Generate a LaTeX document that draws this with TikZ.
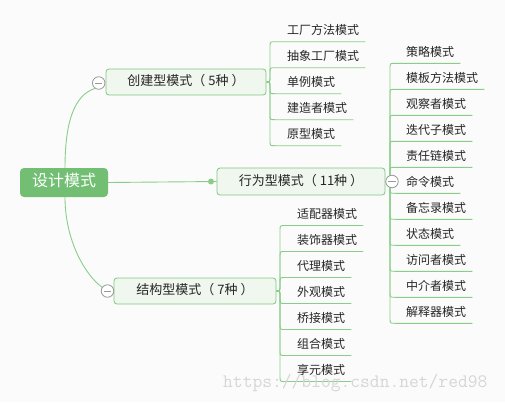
\documentclass[tikz,border=0pt]{standalone}
\usepackage{fontspec}
\newfontfamily\cjk{Noto Sans CJK SC}
\usetikzlibrary{calc}
\definecolor{bgc}{HTML}{FBFBFB}
\definecolor{rootg}{HTML}{72BF74}
\definecolor{boxfill}{HTML}{F0F7EE}
\definecolor{boxline}{HTML}{80C882}
\definecolor{brline}{HTML}{8ACD8A}
\definecolor{circ}{HTML}{9A9A9A}
\definecolor{txt}{HTML}{262626}
\definecolor{wmc}{HTML}{D6D6D6}
\pgfdeclarelayer{bgl}
\pgfsetlayers{bgl,main}
\begin{document}
\begin{tikzpicture}[x=1pt,y=-1pt,
 rootbox/.style={fill=rootg, rounded corners=4pt, minimum width=88pt, minimum height=29pt, inner sep=0pt, text=white, font=\cjk\fontsize{16}{16}\selectfont, text height=0.8em, text depth=0.1em},
 catbox/.style={draw=boxline, line width=0.8pt, fill=boxfill, rounded corners=3pt, minimum height=26pt, inner sep=0pt, text=txt, font=\cjk\fontsize{13}{13}\selectfont, text height=0.8em, text depth=0.1em},
 leaf/.style={anchor=base west, inner sep=0pt, text=txt, font=\cjk\fontsize{12}{12}\selectfont},
 branch/.style={draw=brline, line width=0.9pt},
 toggle/.style={circle, draw=circ, fill=white, line width=0.8pt, minimum size=12.5pt, inner sep=0pt},
 dotmark/.style={circle, fill=brline, minimum size=6pt, inner sep=0pt}
]
\useasboundingbox (0,0) rectangle (505,402);
\begin{pgfonlayer}{bgl}
\fill[bgc] (0,0) rectangle (505,402);
\end{pgfonlayer}

% root and categories
\node[rootbox] (root) at (64,182.5) {设计模式};
\node[catbox, minimum width=160pt] (C) at (186,82) {创建型模式（ 5种 ）};
\node[catbox, minimum width=168pt, minimum height=27pt] (B) at (301,181.5) {行为型模式（ 11种 ）};
\node[catbox, minimum width=162pt] (S) at (195,291) {结构型模式（ 7种 ）};

% leaves: creational
\foreach \t [count=\i] in {工厂方法模式,抽象工厂模式,单例模式,建造者模式,原型模式} {
  \coordinate (c\i-u) at (270,{41.7+26*(\i-1)});
  \node[leaf] (c\i) at (287,{41.7+26*(\i-1)-7}) {\t};
}
% leaves: behavioural
\foreach \t [count=\i] in {策略模式,模板方法模式,观察者模式,迭代子模式,责任链模式,命令模式,备忘录模式,状态模式,访问者模式,中介者模式,解释器模式} {
  \coordinate (b\i-u) at (390,{63.3+26*(\i-1)});
  \node[leaf] (b\i) at (406,{63.3+26*(\i-1)-7}) {\t};
}
% leaves: structural
\foreach \t [count=\i] in {适配器模式,装饰器模式,代理模式,外观模式,桥接模式,组合模式,享元模式} {
  \coordinate (s\i-u) at (280,{225.5+26*(\i-1)});
  \node[leaf] (s\i) at (297,{225.5+26*(\i-1)-7}) {\t};
}

% branches
\begin{pgfonlayer}{bgl}
\foreach \p/\c/\n/\k in {C/c/5/2, B/b/11/5, S/s/7/3} {
  \foreach \i in {1,...,\n} {
    \pgfmathsetmacro\shA{\i<=\k ? 6 : -6}
    \pgfmathsetmacro\shB{\i<=\k ? -5 : 5}
    \draw[branch] (\p.east) .. controls (\p.east -| \c\i-u) .. ([yshift=\shA pt]\p.east -| \c\i-u)
      -- ([yshift=\shB pt]\c\i-u) .. controls (\c\i-u) .. ([xshift=5pt]\c\i-u)
      -- ($(\c\i.east |- \c\i-u)+(6,0)$);
  }
}
\end{pgfonlayer}

% toggles and dot
\node[toggle] (tC) at (98.7,83) {};
\node[toggle] (tS) at (107.5,291) {};
\node[toggle] (tB) at (392,181.5) {};
\foreach \t in {tC,tS,tB} {
  \draw[circ, line width=0.8pt] ([xshift=3pt]\t.west) -- ([xshift=-3pt]\t.east);
}

\begin{pgfonlayer}{bgl}
\draw[branch] ([xshift=1pt]root.north) .. controls (65,120) and (75,95) .. (tC.235);
\draw[branch] ([xshift=1pt]root.south) .. controls (65,240) and (85,275) .. (tS.145);
\draw[branch] (root.east) -- (B.west);
\end{pgfonlayer}
\node[dotmark] (dB) at (211,181.5) {};

% watermark
\node[anchor=base west, inner sep=0pt, text=wmc, font=\fontsize{19}{19}\ttfamily] (wmk) at (223,387) {https://blog.csdn.net/red98};
\end{tikzpicture}
\end{document}
